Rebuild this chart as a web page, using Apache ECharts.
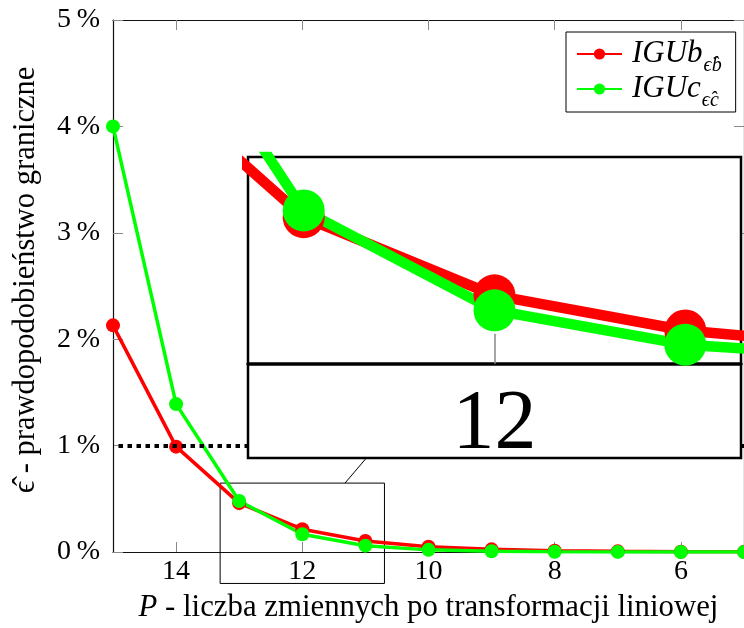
<!DOCTYPE html>
<html><head><meta charset="utf-8">
<script src="https://cdn.jsdelivr.net/npm/echarts@6/dist/echarts.min.js"></script>
<style>html,body{margin:0;padding:0;background:#fff}#c{width:744px;height:628px}</style>
</head><body><div id="c"></div>
<script>
// ---- data ----
const xValues = [15, 14, 13, 12, 11, 10, 9, 8, 7, 6, 5];
const igubValues = [2.13, 0.99, 0.459, 0.214, 0.104, 0.05, 0.025, 0.012, 0.006, 0.003, 0.0015];
const igucValues = [4.0, 1.39, 0.48, 0.167, 0.0595, 0.02, 0.007, 0.0025, 0.001, 0.0004, 0.0002];
const xTickValues = [14, 12, 10, 8, 6];
const yTickValues = [0, 1, 2, 3, 4, 5];
const thresholdValue = 1;
const spyCenter = [12, 0.176];
const spyMagnification = 3;
const insetTickValues = [12];
const seriesNames = ['IGUb', 'IGUc'];

// ---- layout ----
const FONT = 'Liberation Serif';
const RED = '#ff0000', GREEN = '#00ff00';
const mainGrid = {left: 113, top: 20, width: 636, height: 532};
const insetGrid = {left: 248, top: 157, width: 493, height: 301};
const xMin = 5, xMax = 15, yMin = 0, yMax = 5;
const pxX = mainGrid.width / (xMax - xMin), pxY = mainGrid.height / (yMax - yMin);
const halfX = insetGrid.width / 2 / (pxX * spyMagnification);
const halfY = insetGrid.height / 2 / (pxY * spyMagnification);
const insetYMin = spyCenter[1] - halfY, insetYMax = spyCenter[1] + halfY;
// inset x axis sits on the zero line of the magnified view
const insetZeroPx = insetGrid.top + insetGrid.height * (insetYMax - 0) / (insetYMax - insetYMin);
const insetAxisOffset = -(insetGrid.top + insetGrid.height - insetZeroPx);

const pairs = vals => xValues.map((x, i) => [x, vals[i]]);
const chart = echarts.init(document.getElementById('c'), null, {renderer: 'canvas'});

const tickStyle = {color: '#888', width: 1};
const axisLineStyle = {color: '#111', width: 1.2};

function mainSeries(name, vals, color) {
  return {
    name, type: 'line', xAxisIndex: 0, yAxisIndex: 0, data: pairs(vals),
    symbol: 'circle', symbolSize: 14, z: 2,
    lineStyle: {color, width: 3.5}, itemStyle: {color}
  };
}
function insetSeries(name, vals, color) {
  return {
    name, type: 'line', xAxisIndex: 1, yAxisIndex: 1, data: pairs(vals),
    symbol: 'circle', symbolSize: 42, z: 12, clip: true,
    lineStyle: {color, width: 10.5}, itemStyle: {color}
  };
}

const s0 = mainSeries(seriesNames[0], igubValues, RED);
s0.markLine = {
  silent: true, symbol: 'none', label: {show: false},
  lineStyle: {color: '#000', width: 4, type: [4.5, 4.5], cap: 'butt'},
  data: [{yAxis: thresholdValue}]
};

chart.setOption({
  animation: false,
  backgroundColor: '#fff',
  grid: [
    Object.assign({show: false}, mainGrid),
    Object.assign({show: true, backgroundColor: '#fff', borderColor: '#000', borderWidth: 2.5, z: 10}, insetGrid)
  ],
  xAxis: [
    {
      gridIndex: 0, type: 'value', min: xMin, max: xMax, inverse: true, interval: 1,
      axisLine: {onZero: false, lineStyle: axisLineStyle},
      axisTick: {inside: true, length: 10, customValues: xTickValues, lineStyle: tickStyle},
      axisLabel: {customValues: xTickValues, fontSize: 28, fontFamily: FONT, color: '#000', margin: 6},
      splitLine: {show: false},
      name: '{i|P} - liczba zmiennych po transformacji liniowej',
      nameLocation: 'middle', nameGap: 40,
      nameTextStyle: {fontSize: 30.8, fontFamily: FONT, color: '#000',
        rich: {i: {fontStyle: 'italic', fontSize: 30.8, fontFamily: FONT, color: '#000'}}}
    },
    {
      gridIndex: 1, type: 'value', position: 'bottom', offset: insetAxisOffset,
      min: spyCenter[0] - halfX, max: spyCenter[0] + halfX, inverse: true, z: 11,
      axisLine: {onZero: false, lineStyle: {color: '#000', width: 3.5}},
      axisTick: {inside: true, length: 30, customValues: insetTickValues, lineStyle: {color: '#888', width: 1.5}},
      axisLabel: {customValues: insetTickValues, fontSize: 84, fontFamily: FONT, color: '#000', margin: 20},
      splitLine: {show: false}
    },
    {
      gridIndex: 0, type: 'value', position: 'top', min: xMin, max: xMax, inverse: true, interval: 1,
      axisLine: {onZero: false, lineStyle: axisLineStyle},
      axisTick: {inside: true, length: 10, customValues: xTickValues, lineStyle: tickStyle},
      axisLabel: {show: false}, splitLine: {show: false}
    }
  ],
  yAxis: [
    {
      gridIndex: 0, type: 'value', min: yMin, max: yMax, interval: 1,
      axisLine: {show: true, onZero: false, lineStyle: axisLineStyle},
      axisTick: {show: true, inside: true, length: 10, customValues: yTickValues, lineStyle: tickStyle},
      axisLabel: {customValues: yTickValues, fontSize: 28, fontFamily: FONT, color: '#000', margin: 13,
        formatter: v => v + '\u2009%'},
      splitLine: {show: false},
      name: '\u03F5\u0302 - prawdopodobieństwo graniczne',
      nameLocation: 'middle', nameGap: 72,
      nameTextStyle: {fontSize: 30.5, fontFamily: FONT, color: '#000', padding: [0, 0, 0, 12]}
    },
    {
      gridIndex: 1, type: 'value', min: insetYMin, max: insetYMax, show: false
    },
    {
      gridIndex: 0, type: 'value', position: 'right', min: yMin, max: yMax, interval: 1,
      axisLine: {show: true, onZero: false, lineStyle: axisLineStyle},
      axisTick: {show: true, inside: true, length: 10, customValues: yTickValues, lineStyle: tickStyle},
      axisLabel: {show: false}, splitLine: {show: false}
    }
  ],
  legend: {
    data: seriesNames, left: 566, top: 32, orient: 'vertical',
    backgroundColor: '#fff', borderColor: '#000', borderWidth: 1, padding: [0, 14, 1, 10],
    itemWidth: 45, itemHeight: 14, itemGap: -9, selectedMode: false, z: 20,
    formatter: n => '{m|' + n + '}{s|\u03F5\u0302' + n.slice(-1) + '}',
    textStyle: {
      fontFamily: FONT, color: '#000',
      rich: {
        m: {fontSize: 31, fontStyle: 'italic', fontFamily: FONT, lineHeight: 33, padding: [0, 0, 0, 5], color: '#000'},
        s: {fontSize: 20, fontStyle: 'italic', fontFamily: FONT, lineHeight: 20, padding: [24, 0, 0, 1], color: '#000'}
      }
    }
  },
  series: [
    s0,
    mainSeries(seriesNames[1], igucValues, GREEN),
    insetSeries(seriesNames[0], igubValues, RED),
    insetSeries(seriesNames[1], igucValues, GREEN)
  ]
});

// spy rectangle and connector, derived from the spy centre via the main axes
const c1 = chart.convertToPixel({gridIndex: 0}, spyCenter);
const w1 = insetGrid.width / 2 / spyMagnification, h1 = insetGrid.height / 2 / spyMagnification;
const c2 = [insetGrid.left + insetGrid.width / 2, insetGrid.top + insetGrid.height / 2];
const w2 = insetGrid.width / 2, h2 = insetGrid.height / 2;
const dx = c2[0] - c1[0], dy = c2[1] - c1[1];
const t1 = Math.min(w1 / Math.abs(dx), h1 / Math.abs(dy));
const t2 = 1 - Math.min(w2 / Math.abs(dx), h2 / Math.abs(dy));
chart.setOption({
  graphic: [
    {type: 'rect', z: 1, silent: true,
     shape: {x: c1[0] - w1, y: c1[1] - h1, width: 2 * w1, height: 2 * h1},
     style: {fill: 'none', stroke: '#000', lineWidth: 1}},
    {type: 'line', z: 1, silent: true,
     shape: {x1: c1[0] + dx * t1, y1: c1[1] + dy * t1, x2: c1[0] + dx * t2, y2: c1[1] + dy * t2},
     style: {stroke: '#000', lineWidth: 1}}
  ]
});
</script></body></html>
